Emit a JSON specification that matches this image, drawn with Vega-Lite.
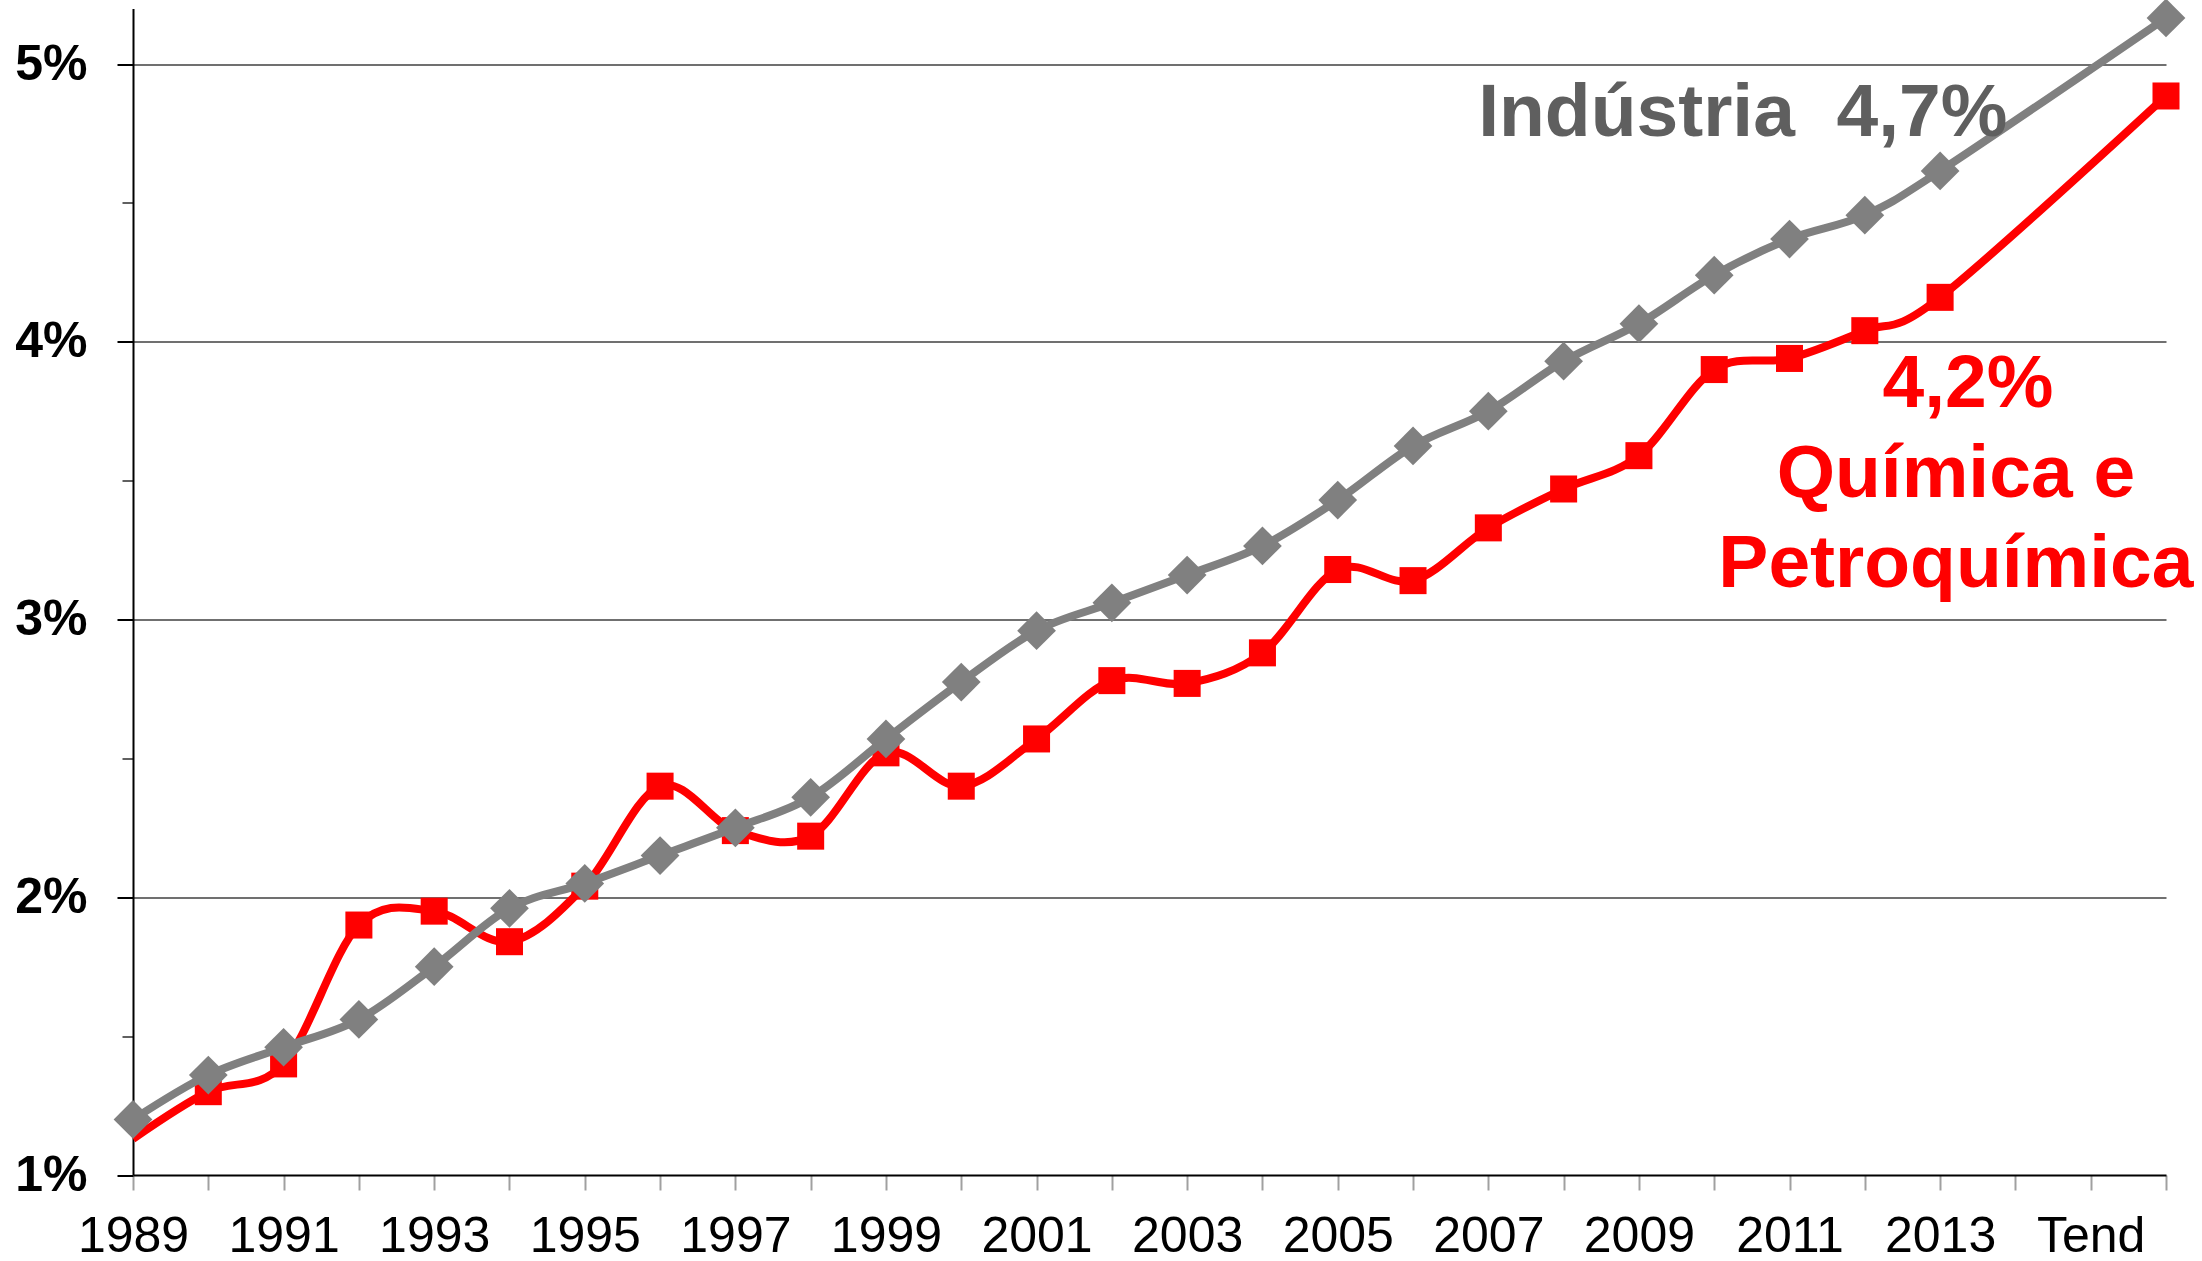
{
  "$schema": "https://vega.github.io/schema/vega-lite/v6.json",
  "width": 2033,
  "height": 1166.5,
  "autosize": {"type": "none"},
  "padding": {"left": 133, "top": 8.5, "right": 36, "bottom": 86},
  "background": "white",
  "config": {"view": {"stroke": null}, "font": "Liberation Sans"},
  "datasets": {
    "series": [
      {"pos": 1989, "serie": "Química e Petroquímica", "valor": 1.13},
      {"pos": 1990, "serie": "Química e Petroquímica", "valor": 1.30},
      {"pos": 1991, "serie": "Química e Petroquímica", "valor": 1.40},
      {"pos": 1992, "serie": "Química e Petroquímica", "valor": 1.90},
      {"pos": 1993, "serie": "Química e Petroquímica", "valor": 1.95},
      {"pos": 1994, "serie": "Química e Petroquímica", "valor": 1.84},
      {"pos": 1995, "serie": "Química e Petroquímica", "valor": 2.04},
      {"pos": 1996, "serie": "Química e Petroquímica", "valor": 2.40},
      {"pos": 1997, "serie": "Química e Petroquímica", "valor": 2.24},
      {"pos": 1998, "serie": "Química e Petroquímica", "valor": 2.22},
      {"pos": 1999, "serie": "Química e Petroquímica", "valor": 2.52},
      {"pos": 2000, "serie": "Química e Petroquímica", "valor": 2.40},
      {"pos": 2001, "serie": "Química e Petroquímica", "valor": 2.57},
      {"pos": 2002, "serie": "Química e Petroquímica", "valor": 2.78},
      {"pos": 2003, "serie": "Química e Petroquímica", "valor": 2.77},
      {"pos": 2004, "serie": "Química e Petroquímica", "valor": 2.88},
      {"pos": 2005, "serie": "Química e Petroquímica", "valor": 3.18},
      {"pos": 2006, "serie": "Química e Petroquímica", "valor": 3.14},
      {"pos": 2007, "serie": "Química e Petroquímica", "valor": 3.33},
      {"pos": 2008, "serie": "Química e Petroquímica", "valor": 3.47},
      {"pos": 2009, "serie": "Química e Petroquímica", "valor": 3.59},
      {"pos": 2010, "serie": "Química e Petroquímica", "valor": 3.90},
      {"pos": 2011, "serie": "Química e Petroquímica", "valor": 3.94},
      {"pos": 2012, "serie": "Química e Petroquímica", "valor": 4.04},
      {"pos": 2013, "serie": "Química e Petroquímica", "valor": 4.16},
      {"pos": 2016, "serie": "Química e Petroquímica", "valor": 4.885},
      {"pos": 1989, "serie": "Indústria", "valor": 1.20},
      {"pos": 1990, "serie": "Indústria", "valor": 1.36},
      {"pos": 1991, "serie": "Indústria", "valor": 1.46},
      {"pos": 1992, "serie": "Indústria", "valor": 1.56},
      {"pos": 1993, "serie": "Indústria", "valor": 1.75},
      {"pos": 1994, "serie": "Indústria", "valor": 1.96},
      {"pos": 1995, "serie": "Indústria", "valor": 2.05},
      {"pos": 1996, "serie": "Indústria", "valor": 2.15},
      {"pos": 1997, "serie": "Indústria", "valor": 2.25},
      {"pos": 1998, "serie": "Indústria", "valor": 2.36},
      {"pos": 1999, "serie": "Indústria", "valor": 2.57},
      {"pos": 2000, "serie": "Indústria", "valor": 2.775},
      {"pos": 2001, "serie": "Indústria", "valor": 2.96},
      {"pos": 2002, "serie": "Indústria", "valor": 3.06},
      {"pos": 2003, "serie": "Indústria", "valor": 3.16},
      {"pos": 2004, "serie": "Indústria", "valor": 3.265},
      {"pos": 2005, "serie": "Indústria", "valor": 3.43},
      {"pos": 2006, "serie": "Indústria", "valor": 3.625},
      {"pos": 2007, "serie": "Indústria", "valor": 3.75},
      {"pos": 2008, "serie": "Indústria", "valor": 3.93},
      {"pos": 2009, "serie": "Indústria", "valor": 4.065},
      {"pos": 2010, "serie": "Indústria", "valor": 4.24},
      {"pos": 2011, "serie": "Indústria", "valor": 4.37},
      {"pos": 2012, "serie": "Indústria", "valor": 4.456},
      {"pos": 2013, "serie": "Indústria", "valor": 4.615},
      {"pos": 2016, "serie": "Indústria", "valor": 5.166}
    ],
    "rotulos": [
      {"pos": 2010.38, "valor": 4.741, "texto": "Indústria\u00a0 4,7%", "serie": "Indústria"},
      {"pos": 2013.37, "valor": 3.765, "texto": "4,2%", "serie": "Química e Petroquímica"},
      {"pos": 2013.21, "valor": 3.441, "texto": "Química e", "serie": "Química e Petroquímica"},
      {"pos": 2013.21, "valor": 3.117, "texto": "Petroquímica", "serie": "Química e Petroquímica"}
    ]
  },
  "encoding": {
    "x": {
      "field": "pos",
      "type": "quantitative",
      "scale": {"domain": [1989, 2016], "nice": false, "zero": false},
      "axis": {
        "title": null,
        "values": [1989,1990,1991,1992,1993,1994,1995,1996,1997,1998,1999,2000,2001,2002,2003,2004,2005,2006,2007,2008,2009,2010,2011,2012,2013,2014,2015,2016],
        "format": "d",
        "labelExpr": "datum.value == 2015 ? 'Tend' : ((datum.value <= 2013 && datum.value % 2 == 1) ? datum.label : '')",
        "labelOverlap": false,
        "labelFlush": false,
        "labelBound": false,
        "labelFont": "Liberation Sans",
        "labelFontSize": 50,
        "labelColor": "black",
        "labelPadding": 21,
        "tickSize": 15,
        "tickColor": "#a0a0a0",
        "tickWidth": 2,
        "domainColor": "black",
        "domainWidth": 2,
        "grid": false
      }
    },
    "y": {
      "field": "valor",
      "type": "quantitative",
      "scale": {"domain": [1, 5.2], "nice": false, "zero": false},
      "axis": {
        "title": null,
        "values": [1, 1.5, 2, 2.5, 3, 3.5, 4, 4.5, 5],
        "labelExpr": "datum.value % 1 == 0 ? datum.value + '%' : ''",
        "labelOverlap": false,
        "labelFlush": false,
        "labelBound": false,
        "labelFont": "Liberation Sans",
        "labelFontSize": 50,
        "labelFontWeight": "bold",
        "labelColor": "black",
        "labelPadding": 30,
        "tickSize": {"condition": {"test": "datum.value % 1 == 0", "value": 16}, "value": 11},
        "tickColor": {"condition": {"test": "datum.value % 1 == 0", "value": "black"}, "value": "#606060"},
        "tickWidth": 2,
        "domainColor": "black",
        "domainWidth": 2,
        "grid": true,
        "gridColor": "#707070",
        "gridWidth": 2,
        "gridOpacity": {"condition": {"test": "datum.value % 1 == 0 && datum.value > 1", "value": 1}, "value": 0}
      }
    }
  },
  "layer": [
    {
      "data": {"name": "series"},
      "transform": [{"filter": "datum.serie == 'Química e Petroquímica'"}],
      "mark": {"type": "line", "interpolate": "cardinal", "color": "#FF0000", "strokeWidth": 8}
    },
    {
      "data": {"name": "series"},
      "transform": [{"filter": "datum.serie == 'Química e Petroquímica' && datum.pos > 1989"}],
      "mark": {"type": "point", "shape": "square", "filled": true, "color": "#FF0000", "size": 730, "opacity": 1}
    },
    {
      "data": {"name": "series"},
      "transform": [{"filter": "datum.serie == 'Indústria'"}],
      "mark": {"type": "line", "interpolate": "cardinal", "color": "#808080", "strokeWidth": 8}
    },
    {
      "data": {"name": "series"},
      "transform": [{"filter": "datum.serie == 'Indústria'"}],
      "mark": {"type": "point", "shape": "diamond", "filled": true, "color": "#808080", "size": 1500, "opacity": 1}
    },
    {
      "data": {"name": "rotulos"},
      "mark": {"type": "text", "font": "Liberation Sans", "fontWeight": "bold", "fontSize": 75, "align": "center", "baseline": "alphabetic"},
      "encoding": {
        "text": {"field": "texto"},
        "color": {
          "field": "serie",
          "type": "nominal",
          "scale": {"domain": ["Indústria", "Química e Petroquímica"], "range": ["#5f5f5f", "#FF0000"]},
          "legend": null
        }
      }
    }
  ]
}
